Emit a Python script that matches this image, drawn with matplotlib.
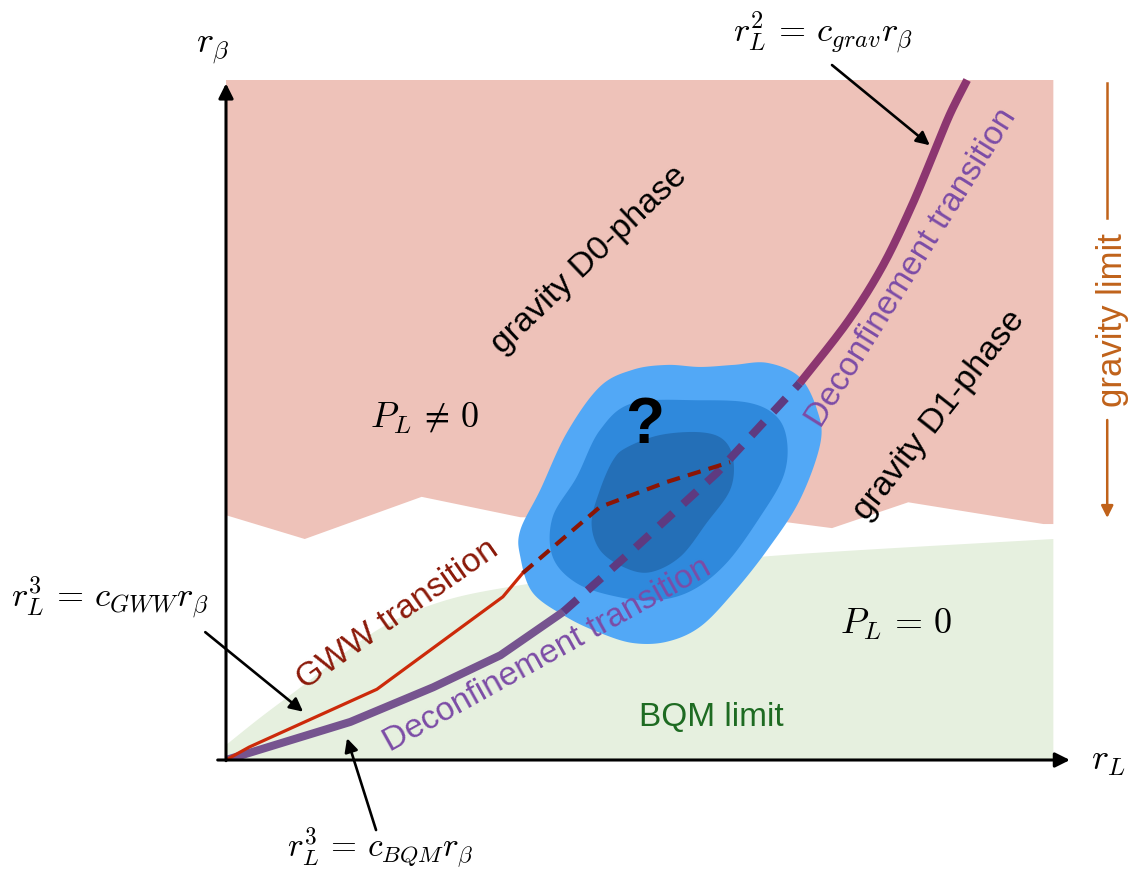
import numpy as np
import matplotlib
matplotlib.use("Agg")
import matplotlib.pyplot as plt
from matplotlib.patches import Polygon

plt.rcParams["mathtext.fontset"] = "cm"
plt.rcParams["font.family"] = ["Liberation Sans", "DejaVu Sans"]

# ---- phase-diagram data (r_L on x, r_beta on y, schematic units 0..10) ----
pink_region = [(0.0, 10.0), (9.98, 10.0), (9.98, 3.47), (9.86, 3.47), (8.23, 3.79),
               (7.31, 3.41), (6.68, 3.51), (3.55, 3.57), (2.36, 3.87), (0.95, 3.25),
               (0.0, 3.60)]
green_edge = [(0.0, 0.22), (0.41, 0.62), (0.89, 1.06), (1.77, 1.87), (2.50, 2.29),
              (3.39, 2.54), (5.0, 2.80), (6.68, 3.01), (9.98, 3.25)]

blob_outer = [(6.12, 5.81), (6.53, 5.84), (6.92, 5.63), (7.13, 5.15), (7.17, 4.66),
              (6.92, 3.82), (6.53, 3.09), (6.12, 2.46), (5.72, 1.96), (5.32, 1.74),
              (4.91, 1.72), (4.51, 1.87), (4.11, 2.10), (3.70, 2.46), (3.55, 2.99),
              (3.55, 3.38), (3.79, 3.97), (4.11, 4.81), (4.51, 5.49), (4.91, 5.74),
              (5.32, 5.81), (5.72, 5.78)]
blob_middle = [(4.91, 5.25), (5.72, 5.29), (6.32, 5.25), (6.65, 5.04), (6.77, 4.66),
               (6.72, 4.16), (6.44, 3.57), (6.04, 2.90), (5.63, 2.50), (5.20, 2.35),
               (4.72, 2.40), (4.23, 2.60), (3.94, 2.99), (3.94, 3.57), (4.23, 4.16),
               (4.51, 4.85)]
blob_inner = [(4.84, 4.60), (5.24, 4.78), (5.72, 4.82), (6.00, 4.71), (6.12, 4.41),
              (6.08, 3.97), (5.80, 3.49), (5.48, 2.99), (5.11, 2.76), (4.79, 2.84),
              (4.51, 3.09), (4.41, 3.49), (4.51, 3.97), (4.67, 4.41)]

# deconfinement line: solid / uncertain (dashed) / solid
deconf_low = [(0.0, 0.0), (1.50, 0.56), (2.50, 1.07), (3.31, 1.54), (4.07, 2.18)]
deconf_mid = [(4.07, 2.18), (4.91, 3.09), (5.92, 4.22), (6.92, 5.54)]
deconf_high = [(6.92, 5.54), (7.49, 6.43), (7.91, 7.24), (8.25, 8.09), (8.52, 8.87),
               (8.73, 9.49), (8.94, 10.0)]

# GWW line: solid / dashed
gww_low = [(0.0, 0.0), (0.28, 0.19), (1.82, 1.04), (3.34, 2.40), (3.58, 2.75)]
gww_mid = [(3.58, 2.75), (4.51, 3.72), (5.32, 4.09), (6.08, 4.38)]


def catmull_rom(pts, closed=True, n=24):
    p = np.asarray(pts, float)
    m = len(p)
    segs = []
    rng = range(m) if closed else range(m - 1)
    for i in rng:
        if closed:
            p0, p1, p2, p3 = p[i - 1], p[i], p[(i + 1) % m], p[(i + 2) % m]
        else:
            p0 = p[max(i - 1, 0)]
            p1, p2 = p[i], p[i + 1]
            p3 = p[min(i + 2, m - 1)]
        t = np.linspace(0, 1, n, endpoint=False)[:, None]
        segs.append(0.5 * (2 * p1 + (-p0 + p2) * t
                           + (2 * p0 - 5 * p1 + 4 * p2 - p3) * t ** 2
                           + (-p0 + 3 * p1 - 3 * p2 + p3) * t ** 3))
    out = np.vstack(segs)
    if not closed:
        out = np.vstack([out, p[-1]])
    return out


fig = plt.figure(figsize=(11.31, 8.74), dpi=100)
ax = fig.add_axes([226 / 1131, 114 / 874, 829 / 1131, 680 / 874])
ax.set_xlim(0, 10)
ax.set_ylim(0, 10)
ax.axis("off")

# regions
ax.add_patch(Polygon(pink_region, closed=True, fc="#EEC2B9", ec="none", zorder=1))
edge = catmull_rom(green_edge, closed=False)
green_poly = np.vstack([[(0, 0)], edge, [(9.98, 0)]])
ax.add_patch(Polygon(green_poly, closed=True, fc="#E6F0DF", ec="none", zorder=1))

for pts, col in [(blob_outer, "#52A8F6"), (blob_middle, "#2F89DC"), (blob_inner, "#246FB7")]:
    ax.add_patch(Polygon(catmull_rom(pts), closed=True, fc=col, ec="none", zorder=2))

# transition lines
x, y = zip(*deconf_low)
ax.plot(x, y, color="#76548F", lw=5.8, solid_capstyle="butt", solid_joinstyle="round",
        zorder=3)
x, y = zip(*deconf_mid)
ax.plot(x, y, color="#5E3A80", lw=5.8, dashes=(2.3, 1.7), dash_capstyle="butt", zorder=3)
hi = catmull_rom(deconf_high, closed=False)
ax.plot(hi[:, 0], hi[:, 1], color="#8C3670", lw=5.8, solid_capstyle="butt",
        solid_joinstyle="round", zorder=3, clip_on=False)

x, y = zip(*gww_low)
ax.plot(x, y, color="#CC2A0A", lw=2.3, zorder=3, solid_joinstyle="round")
x, y = zip(*gww_mid)
ax.plot(x, y, color="#8B1505", lw=3.0, dashes=(3.2, 2.0), dash_capstyle="butt", zorder=3)

# axes with arrowheads
arrow_kw = dict(arrowstyle="-|>", color="black", lw=2.2, mutation_scale=22,
                shrinkA=0, shrinkB=0)
ax.annotate("", xy=(0, 9.95), xytext=(0, -0.01), arrowprops=arrow_kw, zorder=6,
            annotation_clip=False)
ax.annotate("", xy=(10.18, 0), xytext=(-0.1, 0), arrowprops=arrow_kw, zorder=6,
            annotation_clip=False)

# pointer arrows
ptr_kw = dict(arrowstyle="-|>", color="black", lw=1.9, mutation_scale=20,
              shrinkA=0, shrinkB=0)
ax.annotate("", xy=(8.49, 9.04), xytext=(7.31, 10.22), arrowprops=ptr_kw,
            zorder=6, annotation_clip=False)
ax.annotate("", xy=(0.93, 0.71), xytext=(-0.25, 1.88), arrowprops=ptr_kw,
            zorder=6, annotation_clip=False)
ax.annotate("", xy=(1.46, 0.32), xytext=(1.81, -1.03), arrowprops=ptr_kw,
            zorder=6, annotation_clip=False)

# gravity-limit marker on the right
ax.plot([10.63, 10.63], [9.96, 7.97], color="#C0621A", lw=1.8, clip_on=False)
ax.annotate("", xy=(10.63, 3.56), xytext=(10.63, 5.0),
            arrowprops=dict(arrowstyle="-|>", color="#C0621A", lw=1.8,
                            mutation_scale=18, shrinkA=0, shrinkB=0),
            annotation_clip=False)
ax.text(10.69, 6.47, "gravity limit", rotation=90, color="#C0621A", fontsize=25,
        ha="center", va="center", clip_on=False)

# math labels
mfs = 25
ax.text(-0.16, 10.47, r"$r_\beta$", fontsize=mfs + 1, ha="center", va="center",
        clip_on=False)
ax.text(10.64, 0.0, r"$r_L$", fontsize=mfs + 1, ha="center", va="center", clip_on=False)
ax.text(7.20, 10.69, r"$r_L^2\,=\,c_{grav}r_\beta$", fontsize=mfs, ha="center",
        va="center", clip_on=False)
ax.text(-1.40, 2.38, r"$r_L^3\,=\,c_{GWW}r_\beta$", fontsize=mfs, ha="center",
        va="center", clip_on=False)
ax.text(1.86, -1.30, r"$r_L^3\,=\,c_{BQM}r_\beta$", fontsize=mfs - 1, ha="center",
        va="center", clip_on=False)
ax.text(2.40, 5.03, r"$P_L\,\neq\,0$", fontsize=mfs + 1, ha="center", va="center", zorder=5)
ax.text(8.09, 1.99, r"$P_L\,=\,0$", fontsize=mfs + 1, ha="center", va="center", zorder=5)

# region / line labels
tkw = dict(ha="center", va="center", rotation_mode="anchor", zorder=5)
ax.text(4.39, 7.35, "gravity D0-phase", rotation=43.6, fontsize=24.5, color="black", **tkw)
ax.text(8.61, 5.07, "gravity D1-phase", rotation=51.8, fontsize=24.5, color="black", **tkw)
ax.text(8.27, 7.24, "Deconfinement transition", rotation=58, fontsize=24,
        color="#7C4CA6", **tkw)
ax.text(3.87, 1.54, "Deconfinement transition", rotation=29, fontsize=24,
        color="#7C4CA6", **tkw)
ax.text(2.07, 2.13, "GWW transition", rotation=35, fontsize=24.5, color="#8B1A0A", **tkw)
ax.text(5.86, 0.63, "BQM limit", fontsize=24, color="#1E6B22", **tkw)
ax.text(5.05, 4.91, "?", fontsize=46, fontweight="bold", color="black",
        ha="center", va="center", zorder=5)

fig.savefig("out.png", dpi=100)
